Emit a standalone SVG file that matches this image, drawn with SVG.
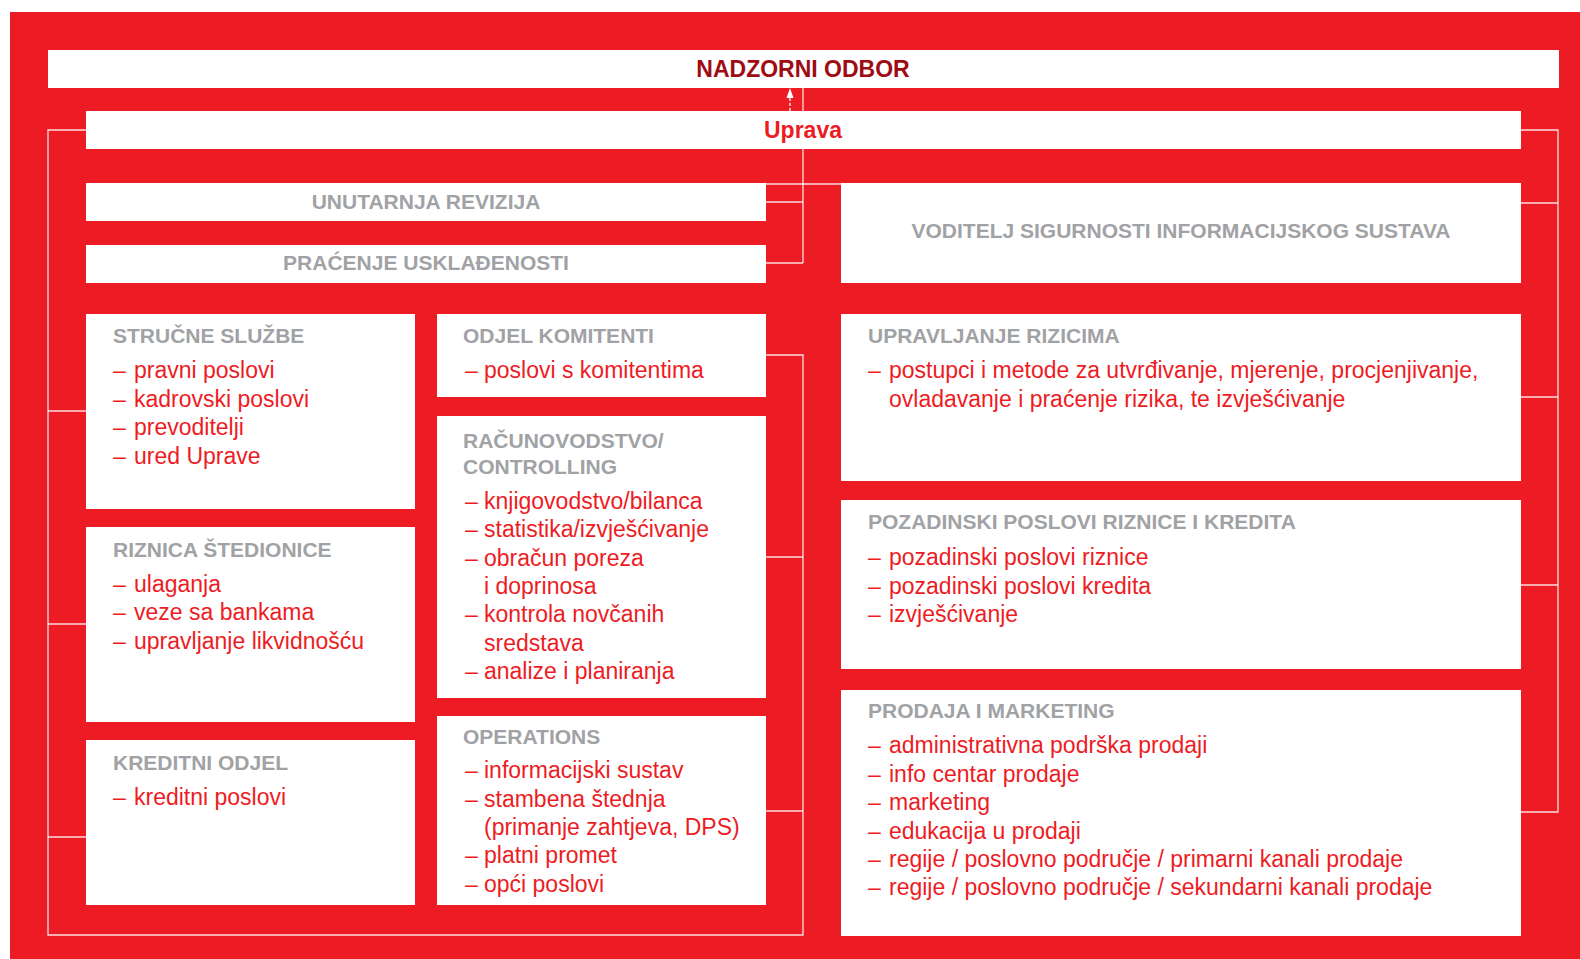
<svg xmlns="http://www.w3.org/2000/svg" width="1580" height="959" viewBox="0 0 1580 959">
<style>
.box{fill:#FFFFFF}
.title{font-family:"Liberation Sans",Arial,sans-serif;font-weight:bold;font-size:23px;text-anchor:middle}
.head{font-family:"Liberation Sans",Arial,sans-serif;font-weight:bold;font-size:21px;fill:#A0A2A5}
.headc{font-family:"Liberation Sans",Arial,sans-serif;font-weight:bold;font-size:21px;fill:#A0A2A5;text-anchor:middle}
.item{font-family:"Liberation Sans",Arial,sans-serif;font-size:23px;fill:#ED1C24}
.con{fill:none;stroke:#FFFFFF;stroke-opacity:0.85;stroke-width:1.3}
</style>
<rect x="10" y="12" width="1570" height="947" fill="#ED1C24"/>

<g id="connectors">
<polyline class="con" points="86,130 48,130 48,935 803,935 803,355 766,355"/>
<line class="con" x1="48" y1="411" x2="86" y2="411"/>
<line class="con" x1="48" y1="624" x2="86" y2="624"/>
<line class="con" x1="48" y1="837" x2="86" y2="837"/>
<line class="con" x1="766" y1="557" x2="803" y2="557"/>
<line class="con" x1="766" y1="811" x2="803" y2="811"/>
<line class="con" x1="803" y1="88" x2="803" y2="263"/>
<line class="con" x1="766" y1="202" x2="803" y2="202"/>
<line class="con" x1="766" y1="263" x2="803" y2="263"/>
<line class="con" x1="766" y1="184" x2="841" y2="184" stroke-opacity="0.5"/>
<polyline class="con" points="1521,130 1558,130 1558,812 1521,812"/>
<line class="con" x1="1521" y1="203" x2="1558" y2="203"/>
<line class="con" x1="1521" y1="397" x2="1558" y2="397"/>
<line class="con" x1="1521" y1="585" x2="1558" y2="585"/>
<line x1="790" y1="111" x2="790" y2="97" stroke="#FFFFFF" stroke-width="1.3" stroke-dasharray="3,2"/>
<polygon points="790,88 786.5,98 793.5,98" fill="#FFFFFF"/>
</g>

<g id="nadzorni-odbor">
<rect class="box" x="48" y="50" width="1511" height="38"/>
<text class="title" x="803" y="76.5" fill="#9E0B12">NADZORNI ODBOR</text>
</g>

<g id="uprava">
<rect class="box" x="86" y="111" width="1435" height="38"/>
<text class="title" x="803" y="137.5" fill="#ED1C24">Uprava</text>
</g>

<g id="unutarnja-revizija">
<rect class="box" x="86" y="183" width="680" height="38"/>
<text class="headc" x="426" y="209">UNUTARNJA REVIZIJA</text>
</g>

<g id="pracenje-uskladenosti">
<rect class="box" x="86" y="245" width="680" height="38"/>
<text class="headc" x="426" y="270">PRAĆENJE USKLAĐENOSTI</text>
</g>

<g id="voditelj">
<rect class="box" x="841" y="183" width="680" height="100"/>
<text class="headc" x="1181" y="237.5">VODITELJ SIGURNOSTI INFORMACIJSKOG SUSTAVA</text>
</g>

<g id="strucne-sluzbe">
<rect class="box" x="86" y="314" width="329" height="195"/>
<text class="head" x="113" y="342.5">STRUČNE SLUŽBE</text>
<text class="item" y="378"><tspan x="113">–</tspan><tspan x="134">pravni poslovi</tspan></text>
<text class="item" y="406.5"><tspan x="113">–</tspan><tspan x="134">kadrovski poslovi</tspan></text>
<text class="item" y="435"><tspan x="113">–</tspan><tspan x="134">prevoditelji</tspan></text>
<text class="item" y="463.5"><tspan x="113">–</tspan><tspan x="134">ured Uprave</tspan></text>
</g>

<g id="riznica-stedionice">
<rect class="box" x="86" y="527" width="329" height="195"/>
<text class="head" x="113" y="556.5">RIZNICA ŠTEDIONICE</text>
<text class="item" y="591.5"><tspan x="113">–</tspan><tspan x="134">ulaganja</tspan></text>
<text class="item" y="620"><tspan x="113">–</tspan><tspan x="134">veze sa bankama</tspan></text>
<text class="item" y="648.5"><tspan x="113">–</tspan><tspan x="134">upravljanje likvidnošću</tspan></text>
</g>

<g id="kreditni-odjel">
<rect class="box" x="86" y="740" width="329" height="165"/>
<text class="head" x="113" y="770">KREDITNI ODJEL</text>
<text class="item" y="805"><tspan x="113">–</tspan><tspan x="134">kreditni poslovi</tspan></text>
</g>

<g id="odjel-komitenti">
<rect class="box" x="437" y="314" width="329" height="83"/>
<text class="head" x="463" y="343">ODJEL KOMITENTI</text>
<text class="item" y="378"><tspan x="465">–</tspan><tspan x="484">poslovi s komitentima</tspan></text>
</g>

<g id="racunovodstvo">
<rect class="box" x="437" y="416" width="329" height="282"/>
<text class="head" x="463" y="447.5">RAČUNOVODSTVO/</text>
<text class="head" x="463" y="474.3">CONTROLLING</text>
<text class="item" y="509"><tspan x="465">–</tspan><tspan x="484">knjigovodstvo/bilanca</tspan></text>
<text class="item" y="537.3"><tspan x="465">–</tspan><tspan x="484">statistika/izvješćivanje</tspan></text>
<text class="item" y="565.7"><tspan x="465">–</tspan><tspan x="484">obračun poreza</tspan></text>
<text class="item" y="594" x="484">i doprinosa</text>
<text class="item" y="622.3"><tspan x="465">–</tspan><tspan x="484">kontrola novčanih</tspan></text>
<text class="item" y="650.7" x="484">sredstava</text>
<text class="item" y="679"><tspan x="465">–</tspan><tspan x="484">analize i planiranja</tspan></text>
</g>

<g id="operations">
<rect class="box" x="437" y="716" width="329" height="189"/>
<text class="head" x="463" y="744.3">OPERATIONS</text>
<text class="item" y="778.3"><tspan x="465">–</tspan><tspan x="484">informacijski sustav</tspan></text>
<text class="item" y="806.7"><tspan x="465">–</tspan><tspan x="484">stambena štednja</tspan></text>
<text class="item" y="835" x="484">(primanje zahtjeva, DPS)</text>
<text class="item" y="863.3"><tspan x="465">–</tspan><tspan x="484">platni promet</tspan></text>
<text class="item" y="891.7"><tspan x="465">–</tspan><tspan x="484">opći poslovi</tspan></text>
</g>

<g id="upravljanje-rizicima">
<rect class="box" x="841" y="314" width="680" height="167"/>
<text class="head" x="868" y="342.7">UPRAVLJANJE RIZICIMA</text>
<text class="item" y="378.3"><tspan x="868">–</tspan><tspan x="889">postupci i metode za utvrđivanje, mjerenje, procjenjivanje,</tspan></text>
<text class="item" y="406.7" x="889">ovladavanje i praćenje rizika, te izvješćivanje</text>
</g>

<g id="pozadinski-poslovi">
<rect class="box" x="841" y="500" width="680" height="169"/>
<text class="head" x="868" y="529.3">POZADINSKI POSLOVI RIZNICE I KREDITA</text>
<text class="item" y="565"><tspan x="868">–</tspan><tspan x="889">pozadinski poslovi riznice</tspan></text>
<text class="item" y="593.5"><tspan x="868">–</tspan><tspan x="889">pozadinski poslovi kredita</tspan></text>
<text class="item" y="622"><tspan x="868">–</tspan><tspan x="889">izvješćivanje</tspan></text>
</g>

<g id="prodaja-marketing">
<rect class="box" x="841" y="690" width="680" height="246"/>
<text class="head" x="868" y="718.3">PRODAJA I MARKETING</text>
<text class="item" y="753.3"><tspan x="868">–</tspan><tspan x="889">administrativna podrška prodaji</tspan></text>
<text class="item" y="781.7"><tspan x="868">–</tspan><tspan x="889">info centar prodaje</tspan></text>
<text class="item" y="810"><tspan x="868">–</tspan><tspan x="889">marketing</tspan></text>
<text class="item" y="838.5"><tspan x="868">–</tspan><tspan x="889">edukacija u prodaji</tspan></text>
<text class="item" y="867"><tspan x="868">–</tspan><tspan x="889">regije / poslovno područje / primarni kanali prodaje</tspan></text>
<text class="item" y="895.3"><tspan x="868">–</tspan><tspan x="889">regije / poslovno područje / sekundarni kanali prodaje</tspan></text>
</g>
</svg>
